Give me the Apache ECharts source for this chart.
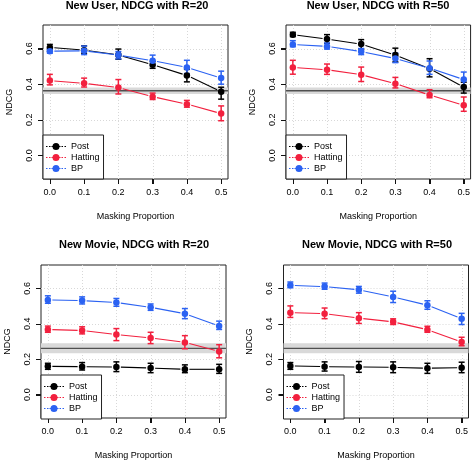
<!DOCTYPE html>
<html>
<head>
<meta charset="utf-8">
<script src="https://cdn.jsdelivr.net/npm/echarts@6/dist/echarts.min.js"></script>
<style>html,body{margin:0;padding:0;background:#fff;}#c{width:473px;height:461px;}</style>
</head>
<body>
<div id="c"></div>
<script>
// ---- data ----
const masking = [0.0, 0.1, 0.2, 0.3, 0.4, 0.5];
const xTicks = [0, 0.1, 0.2, 0.3, 0.4, 0.5];
const yTicks = [0, 0.2, 0.4, 0.6];
const seriesNames = ['Post', 'Hatting', 'BP'];
const panelTitles = ['New User, NDCG with R=20', 'New User, NDCG with R=50', 'New Movie, NDCG with R=20', 'New Movie, NDCG with R=50'];

const nuR20PostMean = [0.606, 0.591, 0.564, 0.509, 0.449, 0.358];
const nuR20PostLo   = [0.585, 0.572, 0.540, 0.489, 0.413, 0.316];
const nuR20PostHi   = [0.623, 0.615, 0.597, 0.528, 0.483, 0.383];
const nuR20HatMean  = [0.420, 0.405, 0.381, 0.330, 0.288, 0.235];
const nuR20HatLo    = [0.396, 0.384, 0.345, 0.314, 0.271, 0.195];
const nuR20HatHi    = [0.455, 0.434, 0.426, 0.350, 0.309, 0.278];
const nuR20BPMean   = [0.585, 0.587, 0.563, 0.532, 0.494, 0.434];
const nuR20BPLo     = [0.574, 0.566, 0.542, 0.506, 0.460, 0.400];
const nuR20BPHi     = [0.597, 0.614, 0.583, 0.563, 0.534, 0.473];

const nuR50PostMean = [0.678, 0.653, 0.625, 0.563, 0.487, 0.384];
const nuR50PostLo   = [0.667, 0.629, 0.598, 0.525, 0.441, 0.350];
const nuR50PostHi   = [0.691, 0.678, 0.650, 0.602, 0.543, 0.411];
const nuR50HatMean  = [0.494, 0.481, 0.453, 0.403, 0.339, 0.282];
const nuR50HatLo    = [0.456, 0.455, 0.415, 0.379, 0.324, 0.248];
const nuR50HatHi    = [0.534, 0.513, 0.496, 0.438, 0.369, 0.328];
const nuR50BPMean   = [0.623, 0.612, 0.583, 0.544, 0.490, 0.426];
const nuR50BPLo     = [0.610, 0.597, 0.566, 0.521, 0.455, 0.384];
const nuR50BPHi     = [0.644, 0.631, 0.600, 0.574, 0.530, 0.468];

const nmR20PostMean = [0.160, 0.158, 0.156, 0.150, 0.143, 0.143];
const nmR20PostLo   = [0.143, 0.139, 0.130, 0.124, 0.124, 0.120];
const nmR20PostHi   = [0.177, 0.181, 0.185, 0.177, 0.168, 0.171];
const nmR20HatMean  = [0.368, 0.362, 0.339, 0.320, 0.295, 0.244];
const nmR20HatLo    = [0.352, 0.343, 0.305, 0.288, 0.259, 0.208];
const nmR20HatHi    = [0.387, 0.383, 0.373, 0.352, 0.333, 0.282];
const nmR20BPMean   = [0.535, 0.531, 0.520, 0.493, 0.457, 0.387];
const nmR20BPLo     = [0.516, 0.512, 0.499, 0.476, 0.429, 0.368];
const nmR20BPHi     = [0.558, 0.552, 0.543, 0.512, 0.486, 0.415];

const nmR50PostMean = [0.162, 0.158, 0.156, 0.154, 0.149, 0.152];
const nmR50PostLo   = [0.143, 0.133, 0.126, 0.124, 0.120, 0.124];
const nmR50PostHi   = [0.181, 0.185, 0.187, 0.185, 0.177, 0.183];
const nmR50HatMean  = [0.463, 0.457, 0.432, 0.411, 0.367, 0.297];
const nmR50HatLo    = [0.436, 0.429, 0.402, 0.396, 0.352, 0.276];
const nmR50HatHi    = [0.501, 0.489, 0.463, 0.428, 0.386, 0.324];
const nmR50BPMean   = [0.617, 0.610, 0.592, 0.552, 0.505, 0.429];
const nmR50BPLo     = [0.604, 0.595, 0.573, 0.520, 0.482, 0.396];
const nmR50BPHi     = [0.636, 0.630, 0.611, 0.584, 0.530, 0.459];

const baselineMid = [0.363, 0.363, 0.261, 0.261];
const baselineLo  = [0.345, 0.345, 0.234, 0.234];
const baselineHi  = [0.381, 0.381, 0.290, 0.290];

// ---- assembly ----
const panels = [
  [[nuR20PostMean, nuR20PostLo, nuR20PostHi], [nuR20HatMean, nuR20HatLo, nuR20HatHi], [nuR20BPMean, nuR20BPLo, nuR20BPHi]],
  [[nuR50PostMean, nuR50PostLo, nuR50PostHi], [nuR50HatMean, nuR50HatLo, nuR50HatHi], [nuR50BPMean, nuR50BPLo, nuR50BPHi]],
  [[nmR20PostMean, nmR20PostLo, nmR20PostHi], [nmR20HatMean, nmR20HatLo, nmR20HatHi], [nmR20BPMean, nmR20BPLo, nmR20BPHi]],
  [[nmR50PostMean, nmR50PostLo, nmR50PostHi], [nmR50HatMean, nmR50HatLo, nmR50HatHi], [nmR50BPMean, nmR50BPLo, nmR50BPHi]]
];
const colors = ['#000000', '#F2203E', '#2B62F2'];
const FONT = 'Liberation Sans, Arial, Helvetica, sans-serif';
// legend icon: dotted line with a filled dot in the middle (20 x 7 box)
const LEGEND_ICON = 'path://M0,3L1.5,3L1.5,4L0,4Z M3,3L4.5,3L4.5,4L3,4Z M5.5,3L6.5,3L6.5,4L5.5,4Z ' +
  'M13.5,3L14.5,3L14.5,4L13.5,4Z M15.5,3L17,3L17,4L15.5,4Z M18.5,3L20,3L20,4L18.5,4Z ' +
  'M13.5,3.5A3.5,3.5,0,1,1,6.5,3.5A3.5,3.5,0,1,1,13.5,3.5Z';

const layout = [
  {left: 43, top: 25, titleX: 137, titleY: 0},
  {left: 286, top: 25, titleX: 378, titleY: 0},
  {left: 41, top: 265, titleX: 134, titleY: 239},
  {left: 283.5, top: 265, titleX: 377, titleY: 239}
];
const GW = 185, GH = 154;

const grids = [], xAxes = [], yAxes = [], series = [], titles = [], legends = [];

function errRender(color) {
  return function (params, api) {
    const x = api.value(0);
    const a = api.coord([x, api.value(1)]);
    const b = api.coord([x, api.value(2)]);
    const hw = 3;
    const st = {stroke: color, lineWidth: 1.5};
    return {type: 'group', children: [
      {type: 'line', shape: {x1: a[0], y1: a[1], x2: b[0], y2: b[1]}, style: st},
      {type: 'line', shape: {x1: a[0] - hw, y1: a[1], x2: a[0] + hw, y2: a[1]}, style: st},
      {type: 'line', shape: {x1: b[0] - hw, y1: b[1], x2: b[0] + hw, y2: b[1]}, style: st}
    ]};
  };
}

// line segments between consecutive points, with small gaps at the points (R type "b")
function segRender(color) {
  return function (params, api) {
    const p0 = api.coord([api.value(0), api.value(1)]);
    const p1 = api.coord([api.value(2), api.value(3)]);
    const dx = p1[0] - p0[0], dy = p1[1] - p0[1];
    const d = Math.sqrt(dx * dx + dy * dy) || 1;
    const g = 4.5;
    const ux = dx / d, uy = dy / d;
    return {type: 'line', shape: {x1: p0[0] + ux * g, y1: p0[1] + uy * g, x2: p1[0] - ux * g, y2: p1[1] - uy * g},
      style: {stroke: color, lineWidth: 1.1}};
  };
}

function bandRender(params, api) {
  const cs = params.coordSys;
  const lo = api.coord([0, api.value(1)]);
  const hi = api.coord([0, api.value(2)]);
  const mid = api.coord([0, api.value(3)]);
  return {type: 'group', children: [
    {type: 'rect', shape: {x: cs.x, y: hi[1], width: cs.width, height: lo[1] - hi[1]}, style: {fill: '#d9d9d9'}},
    {type: 'line', shape: {x1: cs.x, y1: mid[1], x2: cs.x + cs.width, y2: mid[1]}, style: {stroke: '#505050', lineWidth: 1.3}}
  ]};
}

// dotted grid lines plus the outward tick marks
function gridRender(params, api) {
  const cs = params.coordSys;
  const kind = api.value(2);
  const st = {stroke: '#d8d8d8', lineWidth: 1, lineDash: [1, 2]};
  const tk = {stroke: '#111', lineWidth: 1};
  if (kind === 0) {
    const p = api.coord([api.value(0), 0]);
    const x = Math.round(p[0]) + 0.5;
    const yb = cs.y + cs.height;
    return {type: 'group', children: [
      {type: 'line', shape: {x1: x, y1: cs.y, x2: x, y2: yb}, style: st},
      {type: 'line', shape: {x1: x, y1: yb, x2: x, y2: yb + 5}, style: tk}
    ]};
  } else {
    const p = api.coord([0, api.value(1)]);
    const y = Math.round(p[1]) + 0.5;
    return {type: 'group', children: [
      {type: 'line', shape: {x1: cs.x, y1: y, x2: cs.x + cs.width, y2: y}, style: st},
      {type: 'line', shape: {x1: cs.x - 5, y1: y, x2: cs.x, y2: y}, style: tk}
    ]};
  }
}

layout.forEach((L, i) => {
  grids.push({left: L.left, top: L.top, width: GW, height: GH, show: true, borderColor: '#222', borderWidth: 1, backgroundColor: 'transparent'});
  xAxes.push({
    type: 'value', gridIndex: i, min: -0.02, max: 0.52,
    axisLine: {show: false, onZero: false},
    axisTick: {show: true, customValues: xTicks, length: 5, lineStyle: {color: '#111', width: 1}},
    axisLabel: {customValues: xTicks, formatter: v => v.toFixed(1), fontSize: 9, color: '#000', margin: 9, fontFamily: FONT},
    splitLine: {show: false},
    name: 'Masking Proportion', nameLocation: 'middle', nameGap: 33,
    nameTextStyle: {fontSize: 9, color: '#000', fontFamily: FONT}
  });
  yAxes.push({
    type: 'value', gridIndex: i, min: -0.132, max: 0.732,
    axisLine: {show: false, onZero: false},
    axisTick: {show: true, customValues: yTicks, length: 5, lineStyle: {color: '#111', width: 1}},
    axisLabel: {customValues: yTicks, formatter: v => v.toFixed(1), fontSize: 9, color: '#000', rotate: 90, margin: 9, fontFamily: FONT},
    splitLine: {show: false},
    name: 'NDCG', nameLocation: 'middle', nameGap: 29, nameRotate: 90,
    nameTextStyle: {fontSize: 9, color: '#000', fontFamily: FONT}
  });
  titles.push({text: panelTitles[i], left: L.titleX, top: L.titleY, textAlign: 'center', padding: 0,
    textStyle: {fontSize: 11, fontWeight: 'bold', color: '#000', fontFamily: FONT}});
  legends.push({
    orient: 'vertical', left: L.left, top: L.top + GH - 44,
    data: seriesNames.map(n => ({name: n, icon: LEGEND_ICON})),
    itemWidth: 20, itemHeight: 7, itemGap: 2,
    padding: [7, 4, 6, 3], borderColor: '#222', borderWidth: 1, backgroundColor: '#fff',
    textStyle: {fontSize: 9, color: '#000', fontFamily: FONT},
    selectedMode: false
  });

  const gridData = xTicks.map(v => [v, 0, 0]).concat(yTicks.map(v => [0, v, 1]));
  series.push({type: 'custom', xAxisIndex: i, yAxisIndex: i, z: 1, silent: true, renderItem: gridRender,
    encode: {x: 0, y: 1}, data: gridData, clip: false});
  series.push({type: 'custom', xAxisIndex: i, yAxisIndex: i, z: 2, silent: true, renderItem: bandRender,
    encode: {x: 0, y: [1, 2, 3]}, data: [[0, baselineLo[i], baselineHi[i], baselineMid[i]]]});

  panels[i].forEach((s, k) => {
    const [mean, lo, hi] = s;
    series.push({
      type: 'custom', xAxisIndex: i, yAxisIndex: i, z: 3, silent: true,
      renderItem: segRender(colors[k]), encode: {x: [0, 2], y: [1, 3]},
      data: masking.slice(0, -1).map((x, j) => [x, mean[j], masking[j + 1], mean[j + 1]])
    });
    series.push({
      type: 'custom', xAxisIndex: i, yAxisIndex: i, z: 4, silent: true,
      renderItem: errRender(colors[k]), encode: {x: 0, y: [1, 2]},
      data: masking.map((x, j) => [x, lo[j], hi[j]])
    });
    series.push({
      type: 'scatter', name: seriesNames[k], xAxisIndex: i, yAxisIndex: i, z: 5,
      data: masking.map((x, j) => [x, mean[j]]),
      symbol: 'circle', symbolSize: 6.5,
      itemStyle: {color: colors[k], opacity: 1}
    });
  });
});

const chart = echarts.init(document.getElementById('c'), null, {renderer: 'canvas'});
chart.setOption({
  animation: false,
  title: titles, legend: legends, grid: grids, xAxis: xAxes, yAxis: yAxes, series: series
});
</script>
</body>
</html>
